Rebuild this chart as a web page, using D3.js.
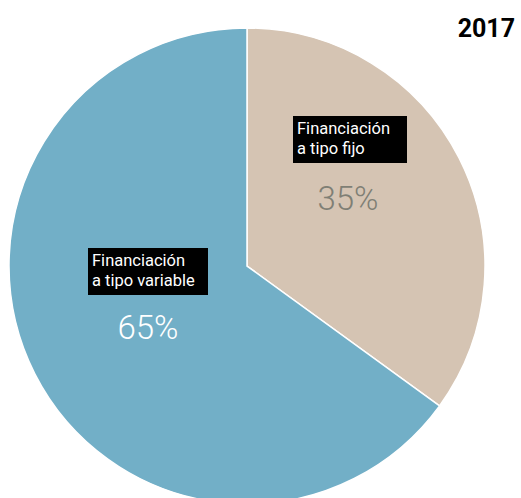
<html>
<meta charset='utf-8'>
<head>
    <script src="https://d3js.org/d3.v7.min.js"></script>
    <style>
      body { margin: 0; background: #fff; }
      text { font-family: Roboto, "Open Sans", sans-serif; }
    </style>
</head>
<body>
<div id='viz'></div>
<script>
    let categories = ['Financiación a tipo fijo', 'Financiación a tipo variable'];
    let labelLines = [['Financiación', 'a tipo fijo'], ['Financiación', 'a tipo variable']];
    let values = [35, 65];
    let colors = ['#d5c4b3', '#72afc7'];
    let pctColors = ['#7f7f75', '#ffffff'];
    let year = '2017';

    let width = 521, height = 498;
    let cx = 247, cy = 266, r = 238;

    let svg = d3.select('#viz').append('svg')
                .attr('width', width)
                .attr('height', height);

    let pie = d3.pie().sort(null).value(d => d);
    let arcs = pie(values);
    let arc = d3.arc().innerRadius(0).outerRadius(r);

    let g = svg.append('g').attr('transform', `translate(${cx},${cy})`);

    g.selectAll('path')
      .data(arcs)
      .enter()
      .append('path')
      .attr('d', arc)
      .attr('fill', (d, i) => colors[i])
      .attr('stroke', '#ffffff')
      .attr('stroke-width', 1.5);

    // label positions relative to centre (box left, box top, pct centre)
    let boxPos = [[46, -150], [-159, -18]];
    let pctPos = [[101, -68], [-99, 61]];
    let boxW = [114, 120];

    arcs.forEach((d, i) => {
      let lg = g.append('g').attr('transform', `translate(${boxPos[i][0]},${boxPos[i][1]})`);
      lg.append('rect')
        .attr('width', boxW[i])
        .attr('height', 47)
        .attr('fill', '#000');
      labelLines[i].forEach((line, j) => {
        lg.append('text')
          .attr('x', 4)
          .attr('y', 18 + j * 20)
          .attr('font-size', '16.5px')
          .attr('fill', '#fff')
          .text(line);
      });
      g.append('text')
        .attr('x', pctPos[i][0])
        .attr('y', pctPos[i][1])
        .attr('text-anchor', 'middle')
        .attr('dominant-baseline', 'central')
        .attr('font-size', '33px')
        .attr('font-weight', 300)
        .attr('fill', pctColors[i])
        .text(values[i] + '%');
    });

    svg.append('text')
      .attr('x', 515)
      .attr('y', 37)
      .attr('text-anchor', 'end')
      .attr('font-size', '25px')
      .attr('font-weight', 'bold')
      .attr('fill', '#000')
      .text(year);
</script>
</body>
</html>
